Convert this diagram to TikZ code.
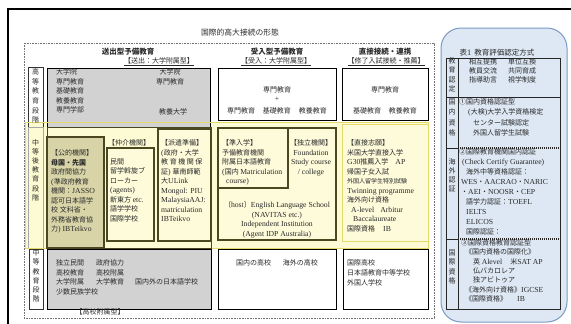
\documentclass[tikz,border=0pt]{standalone}
\usepackage{fontspec}
\setmainfont{Liberation Serif}[Scale=1.1]
\newfontfamily\jpf{Noto Sans CJK JP}
\XeTeXinterchartokenstate=1
\newXeTeXintercharclass\CJKcls
\newcount\cjkc
\def\setcjk#1#2{\cjkc=#1\relax\loop\XeTeXcharclass\cjkc=\CJKcls\relax\ifnum\cjkc<#2\relax\advance\cjkc by 1\relax\repeat}
\setcjk{"2460}{"24FF}
\setcjk{"3000}{"30FF}
\setcjk{"4E00}{"9FFF}
\setcjk{"FF00}{"FFEF}
\XeTeXinterchartoks 0 \CJKcls = {\jpf}
\XeTeXinterchartoks 4095 \CJKcls = {\jpf}
\XeTeXinterchartoks \CJKcls 0 = {\rmfamily}
\XeTeXinterchartoks 4095 0 = {\rmfamily}

\definecolor{bandfill}{HTML}{FDFBD3}
\definecolor{bandline}{HTML}{E3DA6A}
\definecolor{khaki}{HTML}{D8D4A7}
\definecolor{olivedk}{HTML}{4B4721}
\definecolor{lightyel}{HTML}{FDFBDA}
\definecolor{boxgray}{HTML}{D2D2D2}
\definecolor{panelfill}{HTML}{DDE8F4}
\definecolor{panelline}{HTML}{7B9AC2}
\definecolor{txtc}{HTML}{2A2A2A}

\tikzset{
  txt/.style={inner sep=0pt, font=\fontsize{7}{9.5}\selectfont, text=txtc},
  tl/.style={txt, anchor=north west, align=left},
  tc/.style={txt, anchor=north, align=center},
  vlab/.style={txt, align=center},
  hdr/.style={txt, font=\bfseries\fontsize{7.5}{9}\selectfont},
  gbox/.style={draw=black, line width=0.9pt, fill=boxgray},
  wbox/.style={draw=black, line width=0.9pt, fill=white},
  obox/.style={draw=olivedk, line width=1.1pt},
  ybox/.style={draw=bandline, line width=0.9pt, fill=lightyel},
  dotframe/.style={draw=black!55, line width=0.6pt, dash pattern=on 0.8pt off 0.8pt},
  panel/.style={draw=panelline, line width=1pt, fill=panelfill, rounded corners=20pt},
  tline/.style={draw=black!85, line width=0.9pt},
  tdot/.style={draw=black!85, line width=1.1pt, dash pattern=on 1pt off 1pt},
}

\begin{document}
\begin{tikzpicture}[x=1pt,y=-1pt]
\useasboundingbox (0,0) rectangle (571,324);

% outer frame
\draw[line width=1.3pt] (8,324) -- (8,9) -- (571,9);

% right panel
\draw[panel] (441,28) rectangle (567,322);

% dotted frame
\draw[dotframe] (24,43) rectangle (434,318);

% yellow band
\fill[bandfill] (25,122) rectangle (428,248);

% top row boxes
\draw[gbox] (47,68) rectangle (210,127);
\draw[wbox] (218,68) rectangle (336,120);
\draw[wbox] (342,68) rectangle (428,120);

% label boxes
\draw[black!80, line width=0.6pt] (28,67) rectangle (43,127);
\draw[black!35, line width=0.5pt] (28,127) rectangle (43,248);
\draw[black!80, line width=0.6pt] (29,249) rectangle (43,309);

% band outline
\draw[bandline, line width=1pt] (25,122) rectangle (428,248);

% left group in band
\draw[olivedk, line width=0.8pt] (47,127) rectangle (211,248);
\draw[obox, fill=khaki] (47,137) rectangle (104,248);
\draw[obox, fill=lightyel] (107,148) rectangle (154,241);
\draw[obox, fill=lightyel] (158,129) rectangle (211,241);

% middle group in band
\draw[obox, fill=lightyel] (218,128) rectangle (336,240);
\draw[obox] (218,128) rectangle (288,188);

% right box in band
\draw[ybox] (342,124) rectangle (428,241);

% bottom row boxes
\draw[gbox] (47,249) rectangle (211,309);
\draw[wbox] (218,249) rectangle (336,309);
\draw[wbox] (343,249) rectangle (428,309);

% table
\draw[tline] (446,58) rectangle (560,309);
\draw[tline] (458,58) -- (458,309);
\draw[tline] (446,97) -- (560,97);
\draw[tline] (446,148) -- (458,148);
\draw[tdot] (458,148) -- (560,148);
\draw[tline] (446,239) -- (458,239);
\draw[tdot] (458,239) -- (560,239);

% ---------- texts ----------
\node[txt, font=\fontsize{7.8}{9}\selectfont] (title) at (240,33) {国際的高大接続の形態};

\node[hdr] (h1) at (128,52) {送出型予備教育};
\node[txt] (h1b) at (159,62) {\underline{【送出：大学附属型】}};
\node[hdr] (h2) at (277,52) {受入型予備教育};
\node[txt] (h2b) at (276,62) {\underline{【受入：大学附属型】}};
\node[hdr] (h3) at (385,52) {直接接続・連携};
\node[txt] (h3b) at (386,62) {\underline{【修了入試接続・推薦】}};

% vertical labels
\node[vlab, font=\fontsize{7}{9.6}\selectfont] (lab1) at (35.5,96) {高\\等\\教\\育\\段\\階};
\node[vlab, font=\fontsize{7}{9.2}\selectfont] (lab2) at (35.5,170) {中\\等\\後\\教\\育\\段\\階};
\node[vlab, font=\fontsize{7}{9.3}\selectfont] (lab3) at (36,276) {中\\等\\教\\育\\段\\階};

% top row texts
\node[tl] (g1) at (56,68.5) {大学院\\専門教育\\基礎教育\\教養教育\\専門学部};
\node[tc] (g2) at (170,68.5) {大学院\\専門教育};
\node[txt] (g3) at (173,112) {教養大学};
\node[txt] (m1) at (277,90) {専門教育};
\node[txt] (m2) at (277,99.5) {+};
\node[txt] (m3) at (277,111) {専門教育\hspace{8pt}基礎教育\hspace{8pt}教養教育};
\node[txt] (r1) at (385,90) {専門教育};
\node[txt] (r2) at (385,111) {基礎教育\hspace{8pt}教養教育};

% band texts: left group
\node[tl] (k1) at (51,149.5) {【公的機関】\\\textbf{母国・先国}\\政府間協力\\(準政府教育\\機関：JASSO\\認可日本語学\\校 文科省・\\外務省教育協\\力) IBTeikvo};
\node[txt] (c0) at (129,143) {【仲介機関】};
\node[tl] (c1) at (110,158.5) {民間\\留学斡旋ブ\\ローカー\\(agents)\\新東方 etc.\\語学学校\\国際学校};
\node[tl] (p1) at (161,139.5) {【派遣準備】\\(政府・大学\\教 育 機 関 保\\証) 華南師範\\大ULink\\Mongol: PIU\\MalaysiaAAJ:\\matriculation\\IBTeikvo};

% band texts: middle group
\node[tl] (j1) at (222,139.5) {【準入学】\\予備教育機関\\附属日本語教育\\(国内 Matriculation\\\hspace{4pt}course)};
\node[tc] (i1) at (311,139.5) {【独立機関】\\Foundation\\Study course\\/ college};
\node[tc] (e1) at (277,201.5) {〔host〕English Language School\\(NAVITAS etc.)\\Independent Institution\\(Agent IDP Australia)};

% band texts: right
\node[tl] (d1) at (347,139.5) {【直接志願】\\米国大学直接入学\\G30推薦入学\hspace{7pt}AP\\帰国子女入試\\{\fontsize{6}{9.5}\selectfont 外国人留学生特別試験}\\Twinning programme\\海外向け資格\\\hspace{4pt}A-level\hspace{6pt}Arbitur\\\hspace{6pt}Baccalaureate\\国際資格\hspace{8pt}IB};

% bottom row texts
\node[tl] (b1) at (56,259.5) {独立民間\hspace{12pt}政府協力\\高校教育\hspace{12pt}高校附属\\大学附属\hspace{12pt}大学教育\\少数民族学校};
\node[txt, anchor=west] (b2) at (135,282) {国内外の日本語学校};
\node[txt] (b5) at (100,312) {【高校附属型】};
\node[txt] (b3) at (277,263) {国内の高校\hspace{12pt}海外の高校};
\node[tl, font=\fontsize{7}{10}\selectfont] (b4) at (347,259.5) {国際高校\\日本語教育中等学校\\外国人学校};

% table texts
\node[txt, font=\fontsize{7.5}{9}\selectfont] (t0) at (497,53) {表1\hspace{3pt}教育評価認定方式};
\node[vlab, font=\fontsize{7}{9.3}\selectfont] (tl1) at (452,75) {教\\育\\認\\定};
\node[vlab, font=\fontsize{7}{10.3}\selectfont] (tl2) at (452,117.5) {国\\内\\資\\格};
\node[vlab, font=\fontsize{7}{9}\selectfont] (tl3) at (452,175.5) {海\\外\\認\\証};
\node[vlab, font=\fontsize{7}{9.3}\selectfont] (tl4) at (452,267) {国\\際\\資\\格};

\node[tl, font=\fontsize{7}{9.2}\selectfont] (tr1) at (469,58.5) {相互提携\hspace{11pt}単位互換\\教員交流\hspace{11pt}共同育成\\指導助言\hspace{11pt}視学制度};
\node[tl, font=\fontsize{7}{10.3}\selectfont] (tr2) at (459,98.5) {①国内資格認証型\\\hspace{9pt}(大検)大学入学資格検定\\\hspace{14pt}センター試験認定\\\hspace{14pt}外国人留学生試験};
\node[tl, font=\fontsize{7}{10}\selectfont] (tr3) at (459,148.5) {②国際教育機関国内認証\\\hspace{3pt}(Check Certify Guarantee)\\\hspace{7pt}海外中等資格認証：\\\hspace{2pt}WES・AACRAO・NARIC\\\hspace{2pt}・AEI・NOOSR・CEP\\\hspace{7pt}語学力認証：TOEFL\\\hspace{7pt}IELTS\\\hspace{7pt}ELICOS\\\hspace{7pt}国際認証：};
\node[tl, font=\fontsize{7}{9.3}\selectfont] (tr4) at (461,239.5) {③国際資格教育認証型\\\hspace{4pt}《国内資格の国際化》\\\hspace{12pt}英 Alevel\hspace{8pt}米SAT AP\\\hspace{12pt}仏バカロレア\\\hspace{12pt}独アビトゥア\\\hspace{4pt}《海外向け資格》IGCSE\\\hspace{4pt}《国際資格》\hspace{10pt}IB};

\end{tikzpicture}
\end{document}
